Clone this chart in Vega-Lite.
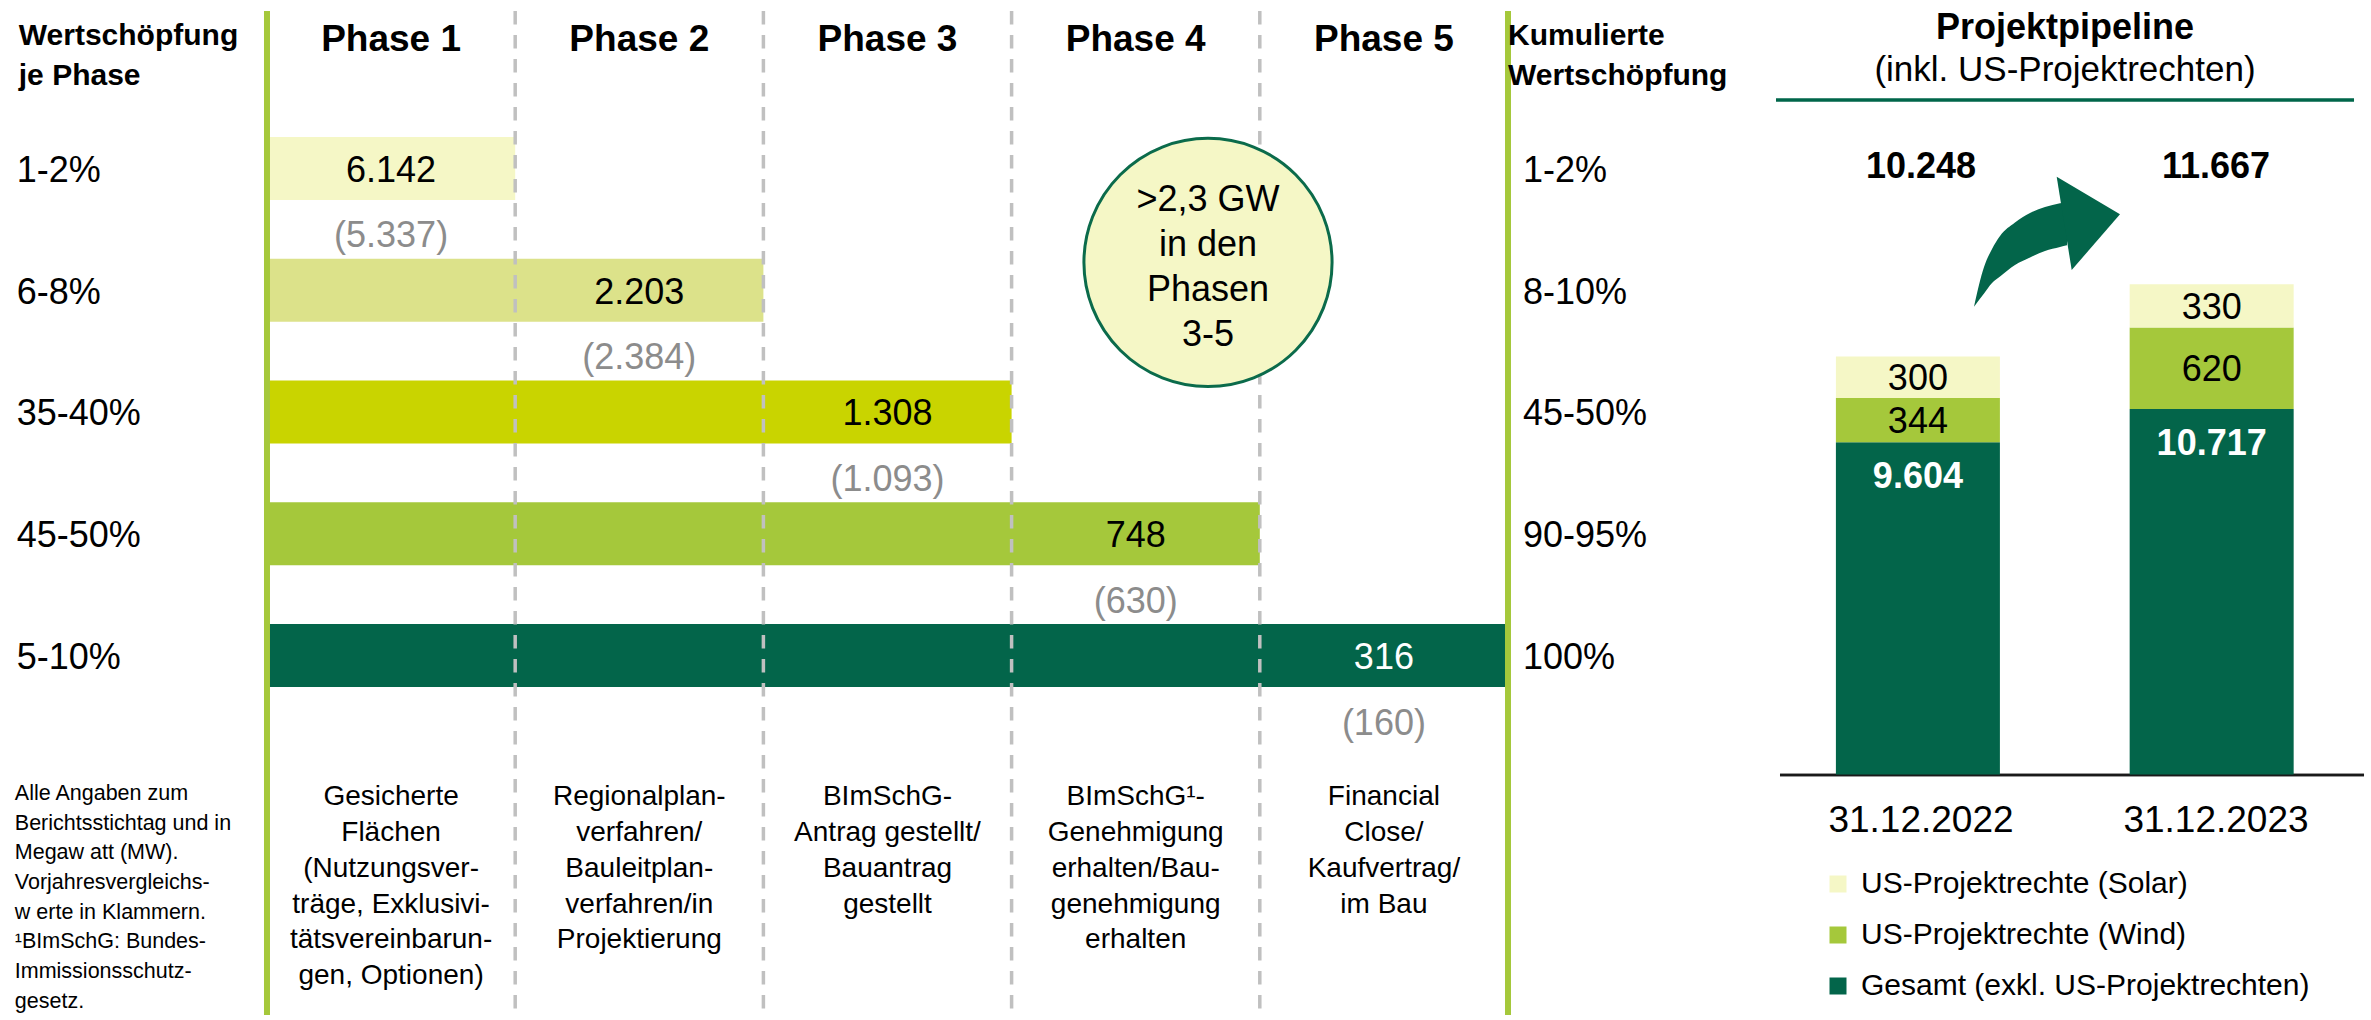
{
  "$schema": "https://vega.github.io/schema/vega-lite/v6.json",
  "width": 2371,
  "height": 1020,
  "autosize": {"type": "none"},
  "padding": 0,
  "background": "white",
  "config": {
    "view": {"stroke": null},
    "font": "Liberation Sans",
    "locale": {"number": {"decimal": ",", "thousands": ".", "grouping": [3], "currency": ["(", ")"]}}
  },
  "datasets": {
    "phases": [
      {"phase": 1, "header": "Phase 1", "mw": 6142, "mw_prev": 5337, "share": "1-2%", "cum": "1-2%", "desc": "Gesicherte\nFlächen\n(Nutzungsver-\nträge, Exklusivi-\ntätsvereinbarun-\ngen, Optionen)"},
      {"phase": 2, "header": "Phase 2", "mw": 2203, "mw_prev": 2384, "share": "6-8%", "cum": "8-10%", "desc": "Regionalplan-\nverfahren/\nBauleitplan-\nverfahren/in\nProjektierung"},
      {"phase": 3, "header": "Phase 3", "mw": 1308, "mw_prev": 1093, "share": "35-40%", "cum": "45-50%", "desc": "BImSchG-\nAntrag gestellt/\nBauantrag\ngestellt"},
      {"phase": 4, "header": "Phase 4", "mw": 748, "mw_prev": 630, "share": "45-50%", "cum": "90-95%", "desc": "BImSchG¹-\nGenehmigung\nerhalten/Bau-\ngenehmigung\nerhalten"},
      {"phase": 5, "header": "Phase 5", "mw": 316, "mw_prev": 160, "share": "5-10%", "cum": "100%", "desc": "Financial\nClose/\nKaufvertrag/\nim Bau"}
    ],
    "pipeline": [
      {"year": 2022, "date": "31.12.2022", "segment": "Gesamt (exkl. US-Projektrechten)", "rank": 1, "mw": 9604},
      {"year": 2022, "date": "31.12.2022", "segment": "US-Projektrechte (Wind)", "rank": 2, "mw": 344},
      {"year": 2022, "date": "31.12.2022", "segment": "US-Projektrechte (Solar)", "rank": 3, "mw": 300},
      {"year": 2023, "date": "31.12.2023", "segment": "Gesamt (exkl. US-Projektrechten)", "rank": 1, "mw": 10717},
      {"year": 2023, "date": "31.12.2023", "segment": "US-Projektrechte (Wind)", "rank": 2, "mw": 620},
      {"year": 2023, "date": "31.12.2023", "segment": "US-Projektrechte (Solar)", "rank": 3, "mw": 330}
    ],
    "totals": [
      {"year": 2022, "date": "31.12.2022", "total": 10248},
      {"year": 2023, "date": "31.12.2023", "total": 11667}
    ],
    "arrow": [
      {"x": 2022.1797, "top": 2.1520, "bottom": 2.1520},
      {"x": 2022.2136, "top": 1.8293, "bottom": 2.0447},
      {"x": 2022.2407, "top": 1.6829, "bottom": 1.9593},
      {"x": 2022.2678, "top": 1.5772, "bottom": 1.9073},
      {"x": 2022.3186, "top": 1.4675, "bottom": 1.8130},
      {"x": 2022.3695, "top": 1.3902, "bottom": 1.7520},
      {"x": 2022.4203, "top": 1.3415, "bottom": 1.6984},
      {"x": 2022.4712, "top": 1.3114, "bottom": 1.6667},
      {"x": 2022.4949, "top": 1.3008, "bottom": 1.6528}
    ]
  },
  "layer": [
    {
      "data": {"name": "phases"},
      "layer": [
        {
          "mark": {"type": "bar", "height": 63, "orient": "horizontal"},
          "encoding": {
            "x": {"field": "phase", "type": "quantitative", "scale": {"domain": [-1.0757, 8.477], "nice": false, "zero": false}, "axis": null},
            "x2": {"datum": 0},
            "y": {"field": "phase", "type": "quantitative", "scale": {"domain": [-0.3415, 7.9512], "reverse": true, "nice": false, "zero": false}, "axis": null},
            "color": {"field": "phase", "type": "nominal", "scale": {"domain": [1, 2, 3, 4, 5], "range": ["#F5F7C6", "#DCE28A", "#C9D400", "#A5C83B", "#03654A"]}, "legend": null}
          }
        },
        {
          "data": {"values": [{"b": 1}, {"b": 2}, {"b": 3}, {"b": 4}]},
          "mark": {"type": "rule", "strokeDash": [13.5, 10.5], "strokeWidth": 3.5, "color": "#C0C0C0"},
          "encoding": {
            "x": {"field": "b", "type": "quantitative", "scale": {"domain": [-1.0757, 8.477], "nice": false, "zero": false}, "axis": null},
            "y": {"datum": -0.2927, "type": "quantitative", "scale": {"domain": [-0.3415, 7.9512], "reverse": true, "nice": false, "zero": false}, "axis": null},
            "y2": {"datum": 7.9512}
          }
        },
        {
          "data": {"values": [{"b": 0}, {"b": 5}]},
          "mark": {"type": "rule", "strokeWidth": 6, "color": "#A5C83B"},
          "encoding": {
            "x": {"field": "b", "type": "quantitative", "scale": {"domain": [-1.0757, 8.477], "nice": false, "zero": false}, "axis": null},
            "y": {"datum": -0.2927, "type": "quantitative", "scale": {"domain": [-0.3415, 7.9512], "reverse": true, "nice": false, "zero": false}, "axis": null},
            "y2": {"datum": 7.9512}
          }
        },
        {
          "data": {"values": [{"label": ">2,3 GW\nin den\nPhasen\n3-5"}]},
          "mark": {"type": "point", "shape": "circle", "filled": true, "size": 61575, "color": "#F5F7C6", "stroke": "#0B6B4B", "strokeWidth": 3, "opacity": 1},
          "encoding": {
            "x": {"datum": 3.7913, "type": "quantitative", "scale": {"domain": [-1.0757, 8.477], "nice": false, "zero": false}, "axis": null},
            "y": {"datum": 1.7724, "type": "quantitative", "scale": {"domain": [-0.3415, 7.9512], "reverse": true, "nice": false, "zero": false}, "axis": null}
          }
        },
        {
          "data": {"values": [{"label": ">2,3 GW\nin den\nPhasen\n3-5"}]},
          "mark": {"type": "text", "lineBreak": "\n", "fontSize": 36, "lineHeight": 45, "baseline": "top", "align": "center", "color": "black"},
          "encoding": {
            "x": {"datum": 3.7913, "type": "quantitative", "scale": {"domain": [-1.0757, 8.477], "nice": false, "zero": false}, "axis": null},
            "y": {"datum": 1.1163, "type": "quantitative", "scale": {"domain": [-0.3415, 7.9512], "reverse": true, "nice": false, "zero": false}, "axis": null},
            "text": {"field": "label", "type": "nominal"}
          }
        },
        {
          "mark": {"type": "text", "fontSize": 36, "align": "center", "baseline": "alphabetic", "dx": -124.1, "dy": 13.5},
          "encoding": {
            "x": {"field": "phase", "type": "quantitative", "scale": {"domain": [-1.0757, 8.477], "nice": false, "zero": false}, "axis": null},
            "y": {"field": "phase", "type": "quantitative", "scale": {"domain": [-0.3415, 7.9512], "reverse": true, "nice": false, "zero": false}, "axis": null},
            "text": {"field": "mw", "type": "quantitative", "format": ",d"},
            "color": {"condition": {"test": "datum.phase === 5", "value": "white"}, "value": "black"}
          }
        },
        {
          "mark": {"type": "text", "fontSize": 36, "align": "center", "baseline": "alphabetic", "dx": -124.1, "dy": 79, "color": "#8C8C8C"},
          "encoding": {
            "x": {"field": "phase", "type": "quantitative", "scale": {"domain": [-1.0757, 8.477], "nice": false, "zero": false}, "axis": null},
            "y": {"field": "phase", "type": "quantitative", "scale": {"domain": [-0.3415, 7.9512], "reverse": true, "nice": false, "zero": false}, "axis": null},
            "text": {"field": "mw_prev", "type": "quantitative", "format": "$,d"}
          }
        },
        {
          "mark": {"type": "text", "fontSize": 36, "align": "left", "baseline": "alphabetic", "dx": -2, "dy": 13.5, "color": "black"},
          "encoding": {
            "x": {"datum": -1, "type": "quantitative", "scale": {"domain": [-1.0757, 8.477], "nice": false, "zero": false}, "axis": null},
            "y": {"field": "phase", "type": "quantitative", "scale": {"domain": [-0.3415, 7.9512], "reverse": true, "nice": false, "zero": false}, "axis": null},
            "text": {"field": "share", "type": "nominal"}
          }
        },
        {
          "mark": {"type": "text", "fontSize": 36, "align": "left", "baseline": "alphabetic", "dx": 15, "dy": 13.5, "color": "black"},
          "encoding": {
            "x": {"datum": 5, "type": "quantitative", "scale": {"domain": [-1.0757, 8.477], "nice": false, "zero": false}, "axis": null},
            "y": {"field": "phase", "type": "quantitative", "scale": {"domain": [-0.3415, 7.9512], "reverse": true, "nice": false, "zero": false}, "axis": null},
            "text": {"field": "cum", "type": "nominal"}
          }
        },
        {
          "mark": {"type": "text", "fontSize": 37, "fontWeight": "bold", "align": "center", "baseline": "alphabetic", "dx": -124.1, "color": "black"},
          "encoding": {
            "x": {"field": "phase", "type": "quantitative", "scale": {"domain": [-1.0757, 8.477], "nice": false, "zero": false}, "axis": null},
            "y": {"datum": 0.0366, "type": "quantitative", "scale": {"domain": [-0.3415, 7.9512], "reverse": true, "nice": false, "zero": false}, "axis": null},
            "text": {"field": "header", "type": "nominal"}
          }
        },
        {
          "mark": {"type": "text", "fontSize": 28, "lineHeight": 35.8, "lineBreak": "\n", "align": "center", "baseline": "top", "dx": -124.1, "color": "black"},
          "encoding": {
            "x": {"field": "phase", "type": "quantitative", "scale": {"domain": [-1.0757, 8.477], "nice": false, "zero": false}, "axis": null},
            "y": {"datum": 6.0488, "type": "quantitative", "scale": {"domain": [-0.3415, 7.9512], "reverse": true, "nice": false, "zero": false}, "axis": null},
            "text": {"field": "desc", "type": "nominal"}
          }
        },
        {
          "data": {"values": [{"t": "Wertschöpfung\nje Phase", "pos": -1}, {"t": "Kumulierte\nWertschöpfung", "pos": 5}]},
          "mark": {"type": "text", "fontSize": 30, "fontWeight": "bold", "lineHeight": 40, "lineBreak": "\n", "align": "left", "baseline": "alphabetic", "color": "black"},
          "encoding": {
            "x": {"field": "pos", "type": "quantitative", "scale": {"domain": [-1.0757, 8.477], "nice": false, "zero": false}, "axis": null},
            "y": {"datum": -0.0106, "type": "quantitative", "scale": {"domain": [-0.3415, 7.9512], "reverse": true, "nice": false, "zero": false}, "axis": null},
            "text": {"field": "t", "type": "nominal"},
            "xOffset": {"condition": {"test": "datum.pos === 5", "value": 9}, "value": 0}
          }
        },
        {
          "data": {"values": [{"note": "Alle Angaben zum\nBerichtsstichtag und in\nMegaw att (MW).\nVorjahresvergleichs-\nw erte in Klammern.\n¹BImSchG: Bundes-\nImmissionsschutz-\ngesetz."}]},
          "mark": {"type": "text", "fontSize": 21.5, "lineHeight": 29.7, "lineBreak": "\n", "align": "left", "baseline": "top", "dx": -4, "color": "black"},
          "encoding": {
            "x": {"datum": -1, "type": "quantitative", "scale": {"domain": [-1.0757, 8.477], "nice": false, "zero": false}, "axis": null},
            "y": {"datum": 6.0463, "type": "quantitative", "scale": {"domain": [-0.3415, 7.9512], "reverse": true, "nice": false, "zero": false}, "axis": null},
            "text": {"field": "note", "type": "nominal"}
          }
        }
      ]
    },
    {
      "data": {"name": "totals"},
      "layer": [
        {
          "mark": {"type": "rule", "strokeWidth": 3, "color": "#00664A"},
          "encoding": {
            "x": {"datum": 2021.5085, "type": "quantitative", "scale": {"domain": [2015.4881, 2023.5254], "nice": false, "zero": false}, "axis": null},
            "x2": {"datum": 2023.4678},
            "y": {"datum": 0.4715, "type": "quantitative", "scale": {"domain": [-0.3415, 7.9512], "reverse": true, "nice": false, "zero": false}, "axis": null}
          }
        },
        {
          "mark": {"type": "rule", "strokeWidth": 2.5, "color": "#1A1A1A"},
          "encoding": {
            "x": {"datum": 2021.522, "type": "quantitative", "scale": {"domain": [2015.4881, 2023.5254], "nice": false, "zero": false}, "axis": null},
            "x2": {"datum": 2023.5017},
            "y": {"datum": 5.9593, "type": "quantitative", "scale": {"domain": [-0.3415, 7.9512], "reverse": true, "nice": false, "zero": false}, "axis": null}
          }
        },
        {
          "data": {"values": [{"t": "Projektpipeline"}]},
          "mark": {"type": "text", "fontSize": 36, "fontWeight": "bold", "align": "center", "baseline": "alphabetic", "color": "black"},
          "encoding": {
            "x": {"datum": 2022.4881, "type": "quantitative", "scale": {"domain": [2015.4881, 2023.5254], "nice": false, "zero": false}, "axis": null},
            "y": {"datum": -0.022, "type": "quantitative", "scale": {"domain": [-0.3415, 7.9512], "reverse": true, "nice": false, "zero": false}, "axis": null},
            "text": {"field": "t", "type": "nominal"}
          }
        },
        {
          "data": {"values": [{"t": "(inkl. US-Projektrechten)"}]},
          "mark": {"type": "text", "fontSize": 35, "align": "center", "baseline": "alphabetic", "color": "black"},
          "encoding": {
            "x": {"datum": 2022.4881, "type": "quantitative", "scale": {"domain": [2015.4881, 2023.5254], "nice": false, "zero": false}, "axis": null},
            "y": {"datum": 0.313, "type": "quantitative", "scale": {"domain": [-0.3415, 7.9512], "reverse": true, "nice": false, "zero": false}, "axis": null},
            "text": {"field": "t", "type": "nominal"}
          }
        },
        {
          "mark": {"type": "text", "fontSize": 36, "fontWeight": "bold", "align": "center", "baseline": "alphabetic", "color": "black"},
          "encoding": {
            "x": {"field": "year", "type": "quantitative", "scale": {"domain": [2015.4881, 2023.5254], "nice": false, "zero": false}, "axis": null},
            "y": {"datum": 1.1057, "type": "quantitative", "scale": {"domain": [-0.3415, 7.9512], "reverse": true, "nice": false, "zero": false}, "axis": null},
            "text": {"field": "total", "type": "quantitative", "format": ",d"}
          }
        },
        {
          "mark": {"type": "text", "fontSize": 37, "align": "center", "baseline": "alphabetic", "color": "black"},
          "encoding": {
            "x": {"field": "year", "type": "quantitative", "scale": {"domain": [2015.4881, 2023.5254], "nice": false, "zero": false}, "axis": null},
            "y": {"datum": 6.4203, "type": "quantitative", "scale": {"domain": [-0.3415, 7.9512], "reverse": true, "nice": false, "zero": false}, "axis": null},
            "text": {"field": "date", "type": "nominal"}
          }
        },
        {
          "data": {"name": "arrow"},
          "mark": {"type": "area", "interpolate": "monotone", "color": "#03654A", "opacity": 1},
          "encoding": {
            "x": {"field": "x", "type": "quantitative", "scale": {"domain": [2015.4881, 2023.5254], "nice": false, "zero": false}, "axis": null},
            "y": {"field": "top", "type": "quantitative", "scale": {"domain": [-0.3415, 7.9512], "reverse": true, "nice": false, "zero": false}, "axis": null},
            "y2": {"field": "bottom"}
          }
        },
        {
          "data": {"values": [{"k": "arrowhead"}]},
          "mark": {"type": "point", "shape": "M -0.146 -0.926 L 1.12 -0.174 L 0.154 0.94 Z", "size": 10000, "filled": true, "color": "#03654A", "opacity": 1, "strokeWidth": 0},
          "encoding": {
            "x": {"datum": 2022.4847, "type": "quantitative", "scale": {"domain": [2015.4881, 2023.5254], "nice": false, "zero": false}, "axis": null},
            "y": {"datum": 1.4715, "type": "quantitative", "scale": {"domain": [-0.3415, 7.9512], "reverse": true, "nice": false, "zero": false}, "axis": null}
          }
        }
      ]
    },
    {
      "data": {"name": "pipeline"},
      "transform": [{"filter": "datum.year === 2022"}],
      "layer": [
        {
          "mark": {"type": "bar", "width": 164, "orient": "vertical"},
          "encoding": {
            "x": {"field": "year", "type": "quantitative", "scale": {"domain": [2015.4881, 2023.5254], "nice": false, "zero": false}, "axis": null},
            "y": {"field": "mw", "type": "quantitative", "stack": "zero", "scale": {"domain": [0, 9604, 9948, 10248], "range": [774.5, 442.3, 397.9, 356.6], "nice": false, "zero": false}, "axis": null},
            "color": {"field": "segment", "type": "nominal", "scale": {"domain": ["US-Projektrechte (Solar)", "US-Projektrechte (Wind)", "Gesamt (exkl. US-Projektrechten)"], "range": ["#F5F7C6", "#A5C83B", "#03654A"]},
              "legend": {"orient": "none", "legendX": 1823, "legendY": 869, "title": null, "symbolType": "square", "symbolSize": 289, "symbolStrokeWidth": 0, "symbolOpacity": 1, "labelFontSize": 30, "labelFont": "Liberation Sans", "labelColor": "black", "labelOffset": 8, "rowPadding": 21, "padding": 0, "labelLimit": 800}},
            "order": {"field": "rank", "type": "quantitative"}
          }
        },
        {
          "mark": {"type": "text", "fontSize": 36, "align": "center", "baseline": "middle", "dy": 2, "color": "black"},
          "encoding": {
            "x": {"field": "year", "type": "quantitative", "scale": {"domain": [2015.4881, 2023.5254], "nice": false, "zero": false}, "axis": null},
            "y": {"field": "mw", "type": "quantitative", "stack": "zero", "bandPosition": 0.5, "scale": {"domain": [0, 9604, 9948, 10248], "range": [774.5, 442.3, 397.9, 356.6], "nice": false, "zero": false}, "axis": null},
            "detail": {"field": "segment", "type": "nominal"},
            "order": {"field": "rank", "type": "quantitative"},
            "text": {"field": "mw", "type": "quantitative", "format": ",d"},
            "opacity": {"condition": {"test": "datum.rank === 1", "value": 0}, "value": 1}
          }
        },
        {
          "mark": {"type": "text", "fontSize": 36, "fontWeight": "bold", "align": "center", "baseline": "middle", "dy": 35, "color": "white"},
          "encoding": {
            "x": {"field": "year", "type": "quantitative", "scale": {"domain": [2015.4881, 2023.5254], "nice": false, "zero": false}, "axis": null},
            "y": {"field": "mw", "type": "quantitative", "stack": "zero", "scale": {"domain": [0, 9604, 9948, 10248], "range": [774.5, 442.3, 397.9, 356.6], "nice": false, "zero": false}, "axis": null},
            "detail": {"field": "segment", "type": "nominal"},
            "order": {"field": "rank", "type": "quantitative"},
            "text": {"field": "mw", "type": "quantitative", "format": ",d"},
            "opacity": {"condition": {"test": "datum.rank === 1", "value": 1}, "value": 0}
          }
        }
      ]
    },
    {
      "data": {"name": "pipeline"},
      "transform": [{"filter": "datum.year === 2023"}],
      "layer": [
        {
          "mark": {"type": "bar", "width": 164, "orient": "vertical"},
          "encoding": {
            "x": {"field": "year", "type": "quantitative", "scale": {"domain": [2015.4881, 2023.5254], "nice": false, "zero": false}, "axis": null},
            "y": {"field": "mw", "type": "quantitative", "stack": "zero", "scale": {"domain": [0, 10717, 11337, 11667], "range": [774.5, 409.1, 327.6, 284.3], "nice": false, "zero": false}, "axis": null},
            "color": {"field": "segment", "type": "nominal", "scale": {"domain": ["US-Projektrechte (Solar)", "US-Projektrechte (Wind)", "Gesamt (exkl. US-Projektrechten)"], "range": ["#F5F7C6", "#A5C83B", "#03654A"]}, "legend": null},
            "order": {"field": "rank", "type": "quantitative"}
          }
        },
        {
          "mark": {"type": "text", "fontSize": 36, "align": "center", "baseline": "middle", "dy": 2, "color": "black"},
          "encoding": {
            "x": {"field": "year", "type": "quantitative", "scale": {"domain": [2015.4881, 2023.5254], "nice": false, "zero": false}, "axis": null},
            "y": {"field": "mw", "type": "quantitative", "stack": "zero", "bandPosition": 0.5, "scale": {"domain": [0, 10717, 11337, 11667], "range": [774.5, 409.1, 327.6, 284.3], "nice": false, "zero": false}, "axis": null},
            "detail": {"field": "segment", "type": "nominal"},
            "order": {"field": "rank", "type": "quantitative"},
            "text": {"field": "mw", "type": "quantitative", "format": ",d"},
            "opacity": {"condition": {"test": "datum.rank === 1", "value": 0}, "value": 1}
          }
        },
        {
          "mark": {"type": "text", "fontSize": 36, "fontWeight": "bold", "align": "center", "baseline": "middle", "dy": 35, "color": "white"},
          "encoding": {
            "x": {"field": "year", "type": "quantitative", "scale": {"domain": [2015.4881, 2023.5254], "nice": false, "zero": false}, "axis": null},
            "y": {"field": "mw", "type": "quantitative", "stack": "zero", "scale": {"domain": [0, 10717, 11337, 11667], "range": [774.5, 409.1, 327.6, 284.3], "nice": false, "zero": false}, "axis": null},
            "detail": {"field": "segment", "type": "nominal"},
            "order": {"field": "rank", "type": "quantitative"},
            "text": {"field": "mw", "type": "quantitative", "format": ",d"},
            "opacity": {"condition": {"test": "datum.rank === 1", "value": 1}, "value": 0}
          }
        }
      ]
    }
  ],
  "resolve": {"scale": {"x": "independent", "y": "independent", "color": "independent"}}
}
